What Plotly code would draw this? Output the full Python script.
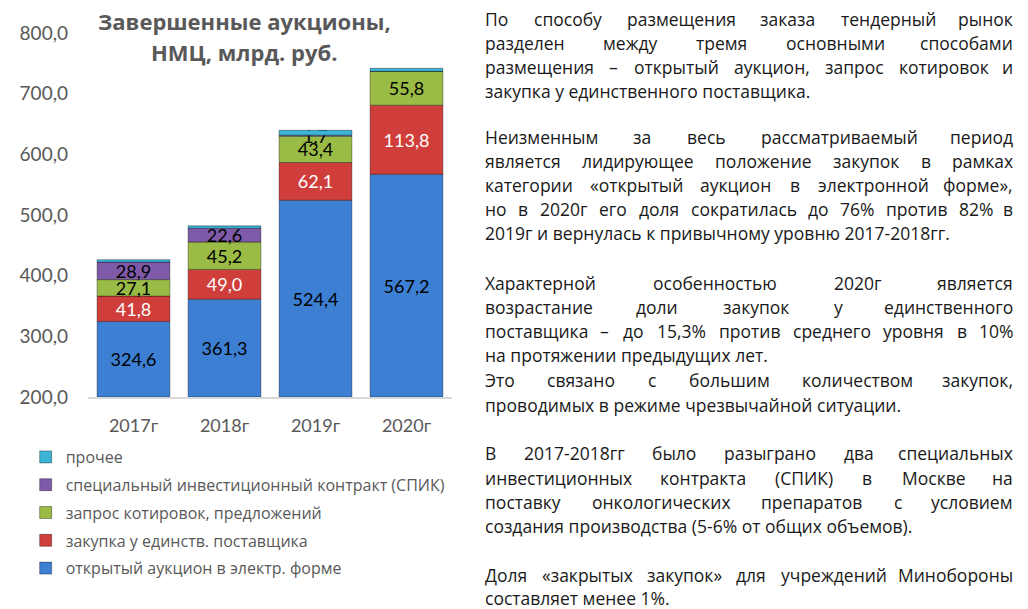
import glob
import plotly.graph_objects as go

# data (млрд. руб.)
years = ["2017г", "2018г", "2019г", "2020г"]
auction = [324.6, 361.3, 524.4, 567.2]
single_supplier = [41.8, 49.0, 62.1, 113.8]
quotations = [27.1, 45.2, 43.4, 55.8]
spik = [28.9, 22.6, 1.7, 0.0]
other = [4.0, 4.0, 8.0, 5.0]

series = [
    ("открытый аукцион в электр. форме", auction, "#3d7fd3", "black", True),
    ("закупка у единств. поставщика", single_supplier, "#cf3e3b", "white", True),
    ("запрос котировок, предложений", quotations, "#9abb45", "black", True),
    ("специальный инвестиционный контракт (СПИК)", spik, "#7e5aa8", "black", True),
    ("прочее", other, "#3cb4d8", "black", False),
]

paragraphs = [
    ["По способу размещения заказа тендерный рынок",
     "разделен между тремя основными способами",
     "размещения – открытый аукцион, запрос котировок и",
     "закупка у единственного поставщика."],
    ["Неизменным за весь рассматриваемый период",
     "является лидирующее положение закупок в рамках",
     "категории «открытый аукцион в электронной форме»,",
     "но в 2020г его доля сократилась до 76% против 82% в",
     "2019г и вернулась к привычному уровню 2017-2018гг."],
    ["Характерной особенностью 2020г является",
     "возрастание доли закупок у единственного",
     "поставщика – до 15,3% против среднего уровня в 10%",
     "на протяжении предыдущих лет."],
    ["Это связано с большим количеством закупок,",
     "проводимых в режиме чрезвычайной ситуации."],
    ["В 2017-2018гг было разыграно два специальных",
     "инвестиционных контракта (СПИК) в Москве на",
     "поставку онкологических препаратов с условием",
     "создания производства (5-6% от общих объемов)."],
    ["Доля «закрытых закупок» для учреждений Минобороны",
     "составляет менее 1%."],
]
line_y = [[19, 43, 67, 91],
          [137, 161, 185, 209, 233],
          [283, 307, 331, 355],
          [380, 405],
          [453, 478, 502, 526],
          [575, 598]]

# the page body has an 8px margin, so the figure is drawn 8px smaller
OFF = 8
W, H = 1028 - OFF, 609 - OFF
L, R, T, B = 84, 452, 33, 397          # plot area in reference pixels
TXT_FONT = "Open Sans"
TXT_SIZE = 17.5
TXT_X0, TXT_X1 = 484, 1020
AX_FONT = "Lato, Carlito, Liberation Sans, sans-serif"


def px(x):
    return (x - L) / (R - L)


def py(y):
    return (B - y) / (B - T)


measure = None
try:
    from PIL import ImageFont
    paths = sorted(glob.glob("/usr/share/fonts/**/OpenSans*.ttf", recursive=True))
    paths = [p for p in paths if "Italic" not in p]
    reg = [p for p in paths if "Regular" in p] or paths
    if reg:
        _f = ImageFont.truetype(reg[0], TXT_SIZE)
        measure = lambda s: _f.getlength(s)
except Exception:
    measure = None
if measure is None:
    measure = lambda s: len(s) * TXT_SIZE * 0.55


fig = go.Figure()
bottom = [200.0] * len(years)
n = len(series)
for k, (name, vals, color, tcolor, labels) in enumerate(series):
    txt = [f"{v:.1f}".replace(".", ",") if labels and v > 0 else "" for v in vals]
    # first segment starts at the axis floor (200), the rest sit on top of it
    heights = [v - b if k == 0 else v for v, b in zip(vals, bottom)]
    fig.add_trace(go.Bar(
        x=years, y=heights, base=bottom, name=name,
        legendgroup=name, legendrank=n - k,
        marker=dict(color=color, line=dict(color="rgba(0,0,0,0.35)", width=1)),
        text=txt, textposition="inside", insidetextanchor="middle",
        constraintext="none",
        textfont=dict(family=AX_FONT, size=18, color=tcolor),
        hoverinfo="skip",
    ))
    bottom = [b + h for b, h in zip(bottom, heights)]

annotations = []
for para, ys in zip(paragraphs, line_y):
    for i, (line, y) in enumerate(zip(para, ys)):
        words = line.split(" ")
        last = i == len(para) - 1
        if last or len(words) < 2:
            annotations.append(dict(text=line, x=px(TXT_X0), y=py(y), xanchor="left"))
            continue
        widths = [measure(w) for w in words]
        gap = (TXT_X1 - TXT_X0 - sum(widths)) / (len(words) - 1)
        xpos = TXT_X0
        for j, (w, wd) in enumerate(zip(words, widths)):
            if j == len(words) - 1:
                annotations.append(dict(text=w, x=px(TXT_X1), y=py(y), xanchor="right"))
            else:
                annotations.append(dict(text=w, x=px(xpos), y=py(y), xanchor="left"))
            xpos += wd + gap
for a in annotations:
    a.update(font=dict(family=TXT_FONT, size=TXT_SIZE, color="#1a1a1a"))

for txt, y in [("<b>Завершенные аукционы,</b>", 21), ("<b>НМЦ, млрд. руб.</b>", 52)]:
    annotations.append(dict(text=txt, x=px(242), y=py(y), xanchor="center",
                            font=dict(family="Open Sans", size=22, color="#595959")))

for a in annotations:
    a.update(xref="paper", yref="paper", yanchor="middle", showarrow=False, borderpad=0)

fig.update_layout(
    width=W, height=H,
    margin=dict(l=L - OFF, r=W - (R - OFF), t=T - OFF, b=H - (B - OFF), pad=0),
    barmode="overlay", bargap=0.2,
    separators=", ",
    paper_bgcolor="white", plot_bgcolor="white",
    font=dict(family=AX_FONT, color="#595959"),
    yaxis=dict(range=[200, 800], tickvals=[200, 300, 400, 500, 600, 700, 800],
               tickformat=".1f", showgrid=False, zeroline=False, showline=False,
               ticks="", ticklabelstandoff=19, tickfont=dict(size=19, color="#595959")),
    xaxis=dict(showline=True, linecolor="#d9d9d9", linewidth=2, ticks="",
               ticklabelstandoff=11, tickfont=dict(size=18, color="#595959")),
    legend=dict(x=px(21), y=py(440), xanchor="left", yanchor="top",
                traceorder="grouped", tracegroupgap=4, itemwidth=30,
                font=dict(family="Open Sans", size=16, color="#595959")),
    annotations=annotations,
)

fig.write_html("out.html")
